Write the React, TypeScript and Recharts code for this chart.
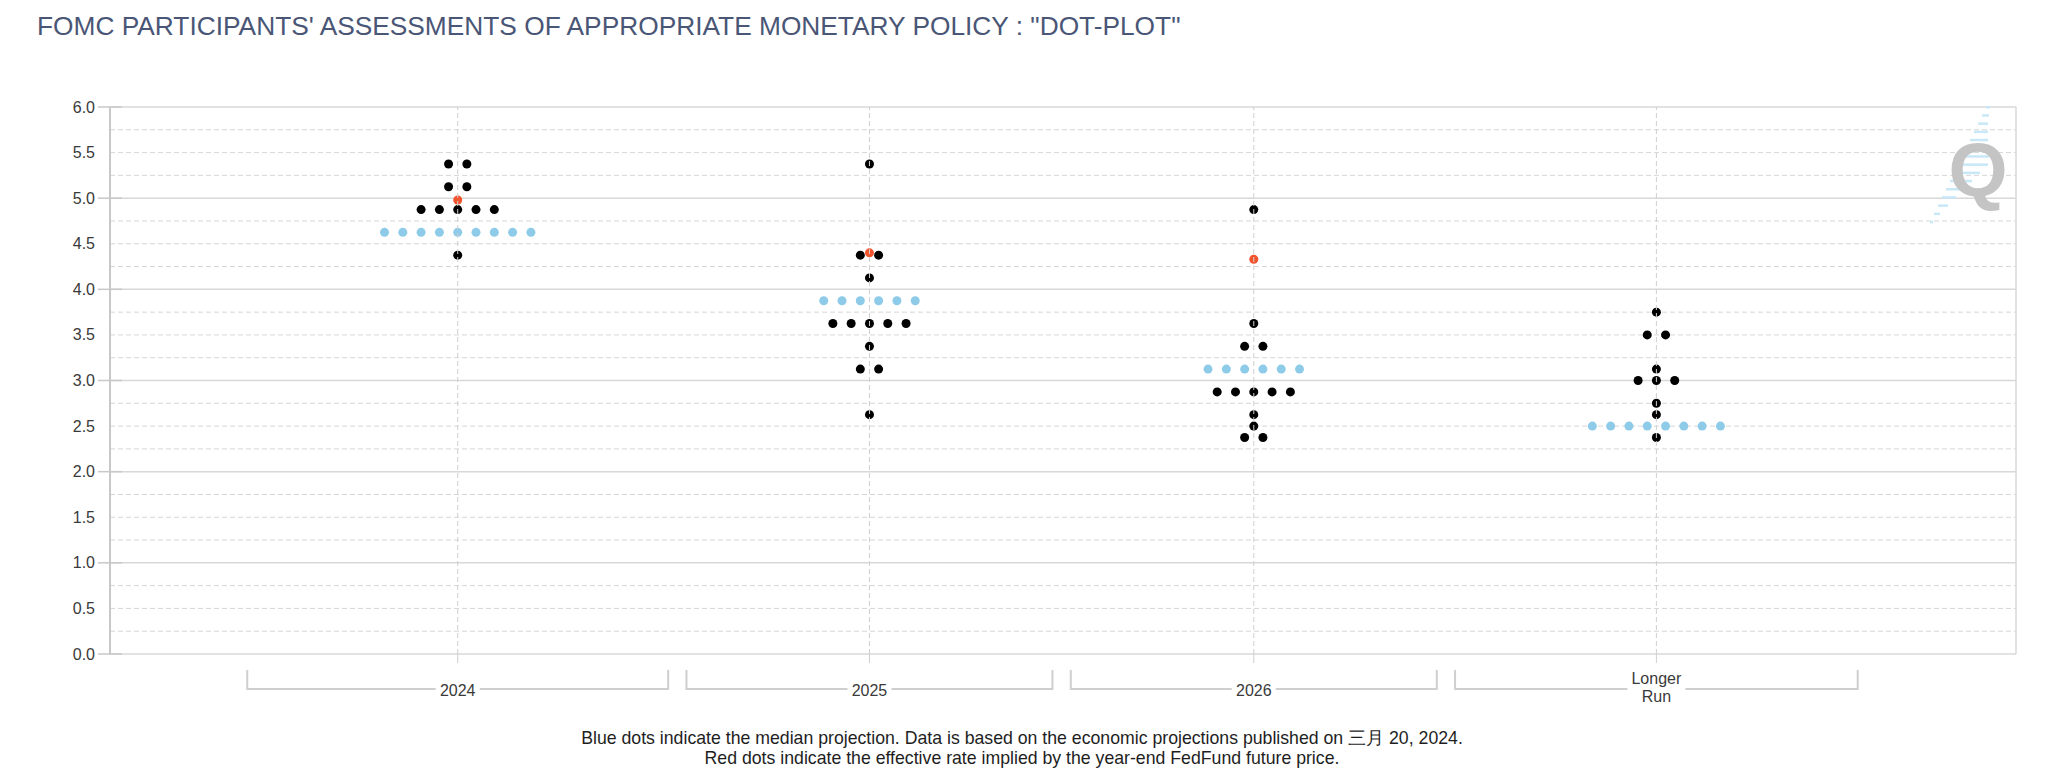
import { ScatterChart, Scatter, XAxis, YAxis, ReferenceLine } from "recharts";

// FOMC dot plot, March 2024 SEP
const CATEGORIES = ["2024", "2025", "2026", "Longer Run"];

const LEVELS_2024 = [5.375, 5.125, 4.875, 4.625, 4.375];
const COUNTS_2024 = [2, 2, 5, 9, 1];
const LEVELS_2025 = [5.375, 4.375, 4.125, 3.875, 3.625, 3.375, 3.125, 2.625];
const COUNTS_2025 = [1, 2, 1, 6, 5, 1, 2, 1];
const LEVELS_2026 = [4.875, 3.625, 3.375, 3.125, 2.875, 2.625, 2.5, 2.375];
const COUNTS_2026 = [1, 1, 2, 6, 5, 1, 1, 2];
const LEVELS_LONGER = [3.75, 3.5, 3.125, 3.0, 2.75, 2.625, 2.5, 2.375];
const COUNTS_LONGER = [1, 2, 1, 3, 1, 1, 8, 1];

const MEDIANS = [4.625, 3.875, 3.125, 2.5];
// rate implied by year-end fed funds futures
const FUTURES = [4.98, 4.4, 4.33, null];

const Y_TICKS = [0, 0.5, 1, 1.5, 2, 2.5, 3, 3.5, 4, 4.5, 5, 5.5, 6];

const LEVELS = [LEVELS_2024, LEVELS_2025, LEVELS_2026, LEVELS_LONGER];
const COUNTS = [COUNTS_2024, COUNTS_2025, COUNTS_2026, COUNTS_LONGER];

// x axis works in "dot widths": each category gets a band sized by its widest row
const BAND_BASE = 15;
const PAD_LEFT = 7;
const PAD_RIGHT = 8.15;

const CHART_W = 2048;
const CHART_H = 783;
const Y_AXIS_W = 110;
const MARGIN = { top: 107, right: 32, bottom: 49, left: 0 };
const X_AXIS_H = 80;

const bandWidths = COUNTS.map((c) => BAND_BASE + Math.max(...c));
const bandStarts: number[] = [];
bandWidths.reduce((acc, w) => {
  bandStarts.push(acc);
  return acc + w;
}, 0);
const totalBands = bandWidths.reduce((a, b) => a + b, 0);
const centers = bandStarts.map((s, i) => s + bandWidths[i] / 2);
const X_DOMAIN = [-PAD_LEFT, totalBands + PAD_RIGHT];
const PLOT_W = CHART_W - Y_AXIS_W - MARGIN.left - MARGIN.right;
const PX_PER_DOT = PLOT_W / (X_DOMAIN[1] - X_DOMAIN[0]);

const dots: { x: number; y: number }[] = [];
const medianDots: { x: number; y: number }[] = [];
LEVELS.forEach((levels, i) => {
  levels.forEach((rate, j) => {
    const n = COUNTS[i][j];
    for (let k = 0; k < n; k++) {
      const pt = { x: centers[i] + k - (n - 1) / 2, y: rate };
      if (rate === MEDIANS[i]) medianDots.push(pt);
      else dots.push(pt);
    }
  });
});
const futureDots = FUTURES.map((v, i) => (v == null ? null : { x: centers[i], y: v })).filter(
  Boolean
) as { x: number; y: number }[];

const quarterLines: number[] = [];
for (let v = 0.25; v < 6; v += 0.25) if (v % 1 !== 0) quarterLines.push(v);

const dotShape = (fill: string) => (p: any) =>
  <circle cx={p.cx} cy={p.cy} r={4.5} fill={fill} />;

function RateTick(props: any) {
  const { x, y, payload } = props;
  const v = payload.value as number;
  return (
    <g>
      {v % 1 === 0 && (
        <line x1={x + 3} x2={x + 27} y1={y} y2={y} stroke="#c8c8c8" strokeWidth={1.5} />
      )}
      <text x={x} y={y} textAnchor="end" dominantBaseline="central" fontSize={16} fill="#3a3a3a">
        {v.toFixed(1)}
      </text>
    </g>
  );
}

function CategoryTick(props: any) {
  const { x, y, payload } = props;
  let i = 0;
  centers.forEach((c, k) => {
    if (Math.abs(c - payload.value) < Math.abs(centers[i] - payload.value)) i = k;
  });
  const half = (bandWidths[i] / 2 - 0.5) * PX_PER_DOT;
  const lineY = y + 26;
  const topY = y + 7;
  const lines = CATEGORIES[i].split(" ");
  const gap = lines.length > 1 ? 58 : 44;
  const gapH = lines.length > 1 ? 38 : 20;
  const mid = lines.length > 1 ? lineY - 2 : lineY + 1;
  return (
    <g>
      <polyline
        points={`${x - half},${topY} ${x - half},${lineY} ${x + half},${lineY} ${x + half},${topY}`}
        fill="none"
        stroke="#cfcfcf"
        strokeWidth={2}
      />
      <rect x={x - gap / 2} y={mid - gapH / 2} width={gap} height={gapH} fill="#fff" />
      {lines.map((t, k) => (
        <text
          key={t}
          x={x}
          y={mid + (k - (lines.length - 1) / 2) * 18}
          textAnchor="middle"
          dominantBaseline="central"
          fontSize={16}
          fill="#3a3a3a"
        >
          {t}
        </text>
      ))}
    </g>
  );
}

const WATERMARK_DASHES = [4, 7, 10, 14, 18, 22, 27, 30, 26, 22, 18, 14, 10, 6, 3];

export default function App() {
  return (
    <div
      style={{
        position: "absolute",
        left: 0,
        top: 0,
        width: CHART_W,
        height: CHART_H,
        background: "#fff",
        fontFamily: "'Liberation Sans', Arial, sans-serif",
      }}
    >
      <div
        style={{
          position: "absolute",
          left: 37,
          top: 10,
          fontSize: 26.3,
          lineHeight: "32px",
          color: "#4a5676",
          whiteSpace: "nowrap",
        }}
      >
        FOMC PARTICIPANTS' ASSESSMENTS OF APPROPRIATE MONETARY POLICY : "DOT-PLOT"
      </div>

      <ScatterChart width={CHART_W} height={CHART_H} margin={MARGIN}>
        {quarterLines.map((v) => (
          <ReferenceLine key={"q" + v} y={v} stroke="#d6d6d6" strokeDasharray="5 3" />
        ))}
        {Y_TICKS.filter((v) => v % 1 === 0).map((v) => (
          <ReferenceLine key={"i" + v} y={v} stroke="#d8d8d8" strokeWidth={1.5} />
        ))}
        <ReferenceLine x={X_DOMAIN[1]} stroke="#d8d8d8" strokeWidth={1.5} />
        <XAxis
          type="number"
          dataKey="x"
          domain={X_DOMAIN}
          ticks={centers}
          interval={0}
          allowDataOverflow
          axisLine={false}
          tickLine={{ stroke: "#cfcfcf" }}
          tickSize={9}
          tickMargin={0}
          height={X_AXIS_H}
          tick={CategoryTick}
        />
        <YAxis
          type="number"
          dataKey="y"
          domain={[0, 6]}
          ticks={Y_TICKS}
          interval={0}
          axisLine={{ stroke: "#c8c8c8", strokeWidth: 2 }}
          tickLine={false}
          tickSize={12}
          tickMargin={3}
          width={Y_AXIS_W}
          tick={RateTick}
        />
        <Scatter data={dots} shape={dotShape("#000000")} isAnimationActive={false} />
        <Scatter data={medianDots} shape={dotShape("#8ecbe9")} isAnimationActive={false} />
        <Scatter data={futureDots} shape={dotShape("#f2542d")} isAnimationActive={false} />
        {centers.map((c) => (
          <ReferenceLine
            key={"c" + c}
            x={c}
            stroke="#cfcfcf"
            strokeDasharray="5 3"
            {...({ zIndex: 700 } as any)}
          />
        ))}
      </ScatterChart>

      <svg
        width={120}
        height={140}
        style={{ position: "absolute", left: 1910, top: 100 }}
      >
        {WATERMARK_DASHES.map((len, k) => (
          <rect
            key={k}
            x={76 - k * 4}
            y={6 + k * 8.2}
            width={len}
            height={2.5}
            fill="#c8e8f8"
          />
        ))}
        <text x={68} y={96} textAnchor="middle" fontSize={76} fontWeight="bold" fill="#c4c4c4">
          Q
        </text>
      </svg>

      <div
        style={{
          position: "absolute",
          left: 0,
          width: 2044,
          top: 728,
          textAlign: "center",
          fontSize: 17.7,
          lineHeight: "20px",
          color: "#1e1e1e",
        }}
      >
        Blue dots indicate the median projection. Data is based on the economic projections published on 三月 20, 2024.
        <br />
        Red dots indicate the effective rate implied by the year-end FedFund future price.
      </div>
    </div>
  );
}
